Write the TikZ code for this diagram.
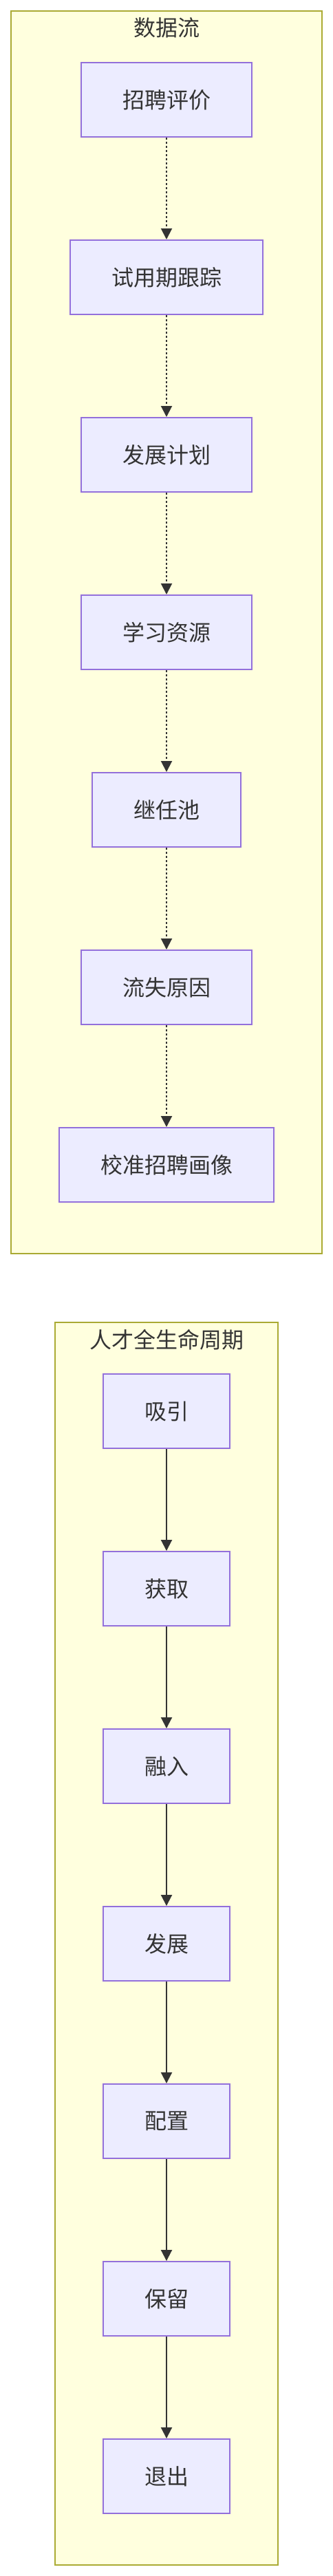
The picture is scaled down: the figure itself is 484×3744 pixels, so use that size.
\documentclass[tikz,border=0pt]{standalone}
\usepackage{fontspec}
\setmainfont{Noto Sans CJK SC}
\usetikzlibrary{arrows.meta}
\definecolor{txt}{HTML}{333333}
\definecolor{nodofill}{HTML}{ECECFF}
\definecolor{nodoborde}{HTML}{9370DB}
\definecolor{grupofill}{HTML}{FFFFDE}
\definecolor{grupoborde}{HTML}{AAAA33}
\tikzset{
    caja/.style={draw=nodoborde, fill=nodofill, line width=2pt, text=txt,
        minimum height=108pt, inner xsep=60pt, inner ysep=0pt,
        font=\fontsize{32pt}{38pt}\selectfont},
    grupo/.style={draw=grupoborde, fill=grupofill, line width=2pt},
    titulo/.style={text=txt, font=\fontsize{32pt}{38pt}\selectfont},
    flecha/.style={draw=txt, line width=2pt, -{Triangle[length=16pt,width=16pt]}},
    punteada/.style={flecha, dash pattern=on 3pt off 3pt},
}
\begin{document}
\begin{tikzpicture}[x=1pt, y=-1pt]
    \useasboundingbox (0,0) rectangle (484,3744);

    % Flujo de datos
    \draw[grupo] (16,16) rectangle (468,1822);
    \node[titulo] (tdatos) at (242,40) {数据流};
    \foreach \i/\nombre/\val in {
        0/zp/招聘评价,
        1/syq/试用期跟踪,
        2/fzjh/发展计划,
        3/xxzy/学习资源,
        4/jrc/继任池,
        5/lsyy/流失原因,
        6/jzhx/校准招聘画像
        } {
        \node[caja] (\nombre) at (242, 145+258*\i) {\val};
    }
    \foreach \a/\b in {zp/syq, syq/fzjh, fzjh/xxzy, xxzy/jrc, jrc/lsyy, lsyy/jzhx} {
        \draw[punteada] (\a.south) -- (\b.north);
    }

    % Ciclo de vida
    \draw[grupo] (80,1922) rectangle (404,3728);
    \node[titulo] (tciclo) at (242,1947) {人才全生命周期};
    \foreach \i/\nombre/\val in {
        0/xy/吸引,
        1/hq/获取,
        2/rr/融入,
        3/fz/发展,
        4/pz/配置,
        5/bl/保留,
        6/tc/退出
        } {
        \node[caja] (\nombre) at (242, 2051+258*\i) {\val};
    }
    \foreach \a/\b in {xy/hq, hq/rr, rr/fz, fz/pz, pz/bl, bl/tc} {
        \draw[flecha] (\a.south) -- (\b.north);
    }
\end{tikzpicture}
\end{document}
